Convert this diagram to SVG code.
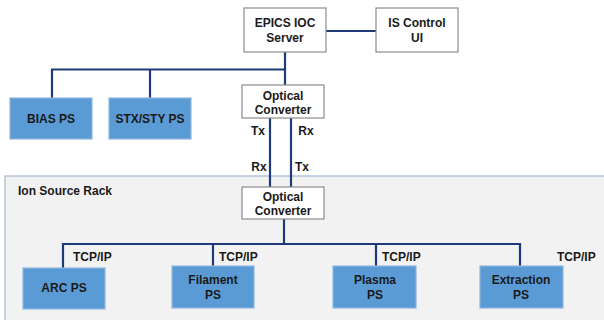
<svg xmlns="http://www.w3.org/2000/svg" width="604" height="320" viewBox="0 0 604 320">
<style>
text{font-family:"Liberation Sans",Arial,sans-serif;font-size:12px;font-weight:bold;fill:#1a1a1a;text-anchor:middle}
.lbl{text-anchor:start}
.w{fill:#ffffff;stroke:#8c8c8c;stroke-width:1.2}
.b{fill:#5b9bd5;stroke:#8fb6e0;stroke-width:1.2}
.c{fill:none;stroke:#1f3a78;stroke-width:2.2}
</style>
<rect id="rack" x="5" y="176" width="610" height="160" fill="#f2f2f2" stroke="#b7c6da" stroke-width="1.5"/>
<text class="lbl" x="18" y="195">Ion Source Rack</text>
<g id="connectors">
<path class="c" d="M376 31H326"/>
<path class="c" d="M285 52V85"/>
<path class="c" d="M285 69.5H52V98M150 69.5V98"/>
<path class="c" d="M270 118V187M291 118V187"/>
<path class="c" d="M284 219V244"/>
<path class="c" d="M63 268V244H520V266M213 244V266M376 244V266"/>
</g>
<g id="labels">
<text x="258" y="135">Tx</text>
<text x="306" y="135">Rx</text>
<text x="259" y="171">Rx</text>
<text x="302" y="171">Tx</text>
<text class="lbl" x="73" y="261">TCP/IP</text>
<text class="lbl" x="219" y="261">TCP/IP</text>
<text class="lbl" x="382" y="261">TCP/IP</text>
<text class="lbl" x="557" y="261">TCP/IP</text>
</g>
<g id="epics"><rect class="w" x="244" y="8" width="82" height="44"/><text x="285" y="27">EPICS IOC</text><text x="285" y="42">Server</text></g>
<g id="isui"><rect class="w" x="376" y="8" width="82" height="44"/><text x="417" y="27">IS Control</text><text x="417" y="42">UI</text></g>
<g id="optical1"><rect class="w" x="242" y="85" width="82" height="33"/><text x="283" y="99.5">Optical</text><text x="283" y="113.5">Converter</text></g>
<g id="bias"><rect class="b" x="10" y="98" width="82" height="41"/><text x="51" y="123">BIAS PS</text></g>
<g id="stx"><rect class="b" x="109" y="98" width="82" height="41"/><text x="150" y="123">STX/STY PS</text></g>
<g id="optical2"><rect class="w" x="242" y="187" width="82" height="32"/><text x="283" y="200.5">Optical</text><text x="283" y="215">Converter</text></g>
<g id="arc"><rect class="b" x="23" y="268" width="82" height="41"/><text x="64" y="292">ARC PS</text></g>
<g id="filament"><rect class="b" x="172" y="266" width="82" height="42"/><text x="213" y="284">Filament</text><text x="213" y="299">PS</text></g>
<g id="plasma"><rect class="b" x="333" y="266" width="83" height="42"/><text x="375" y="284">Plasma</text><text x="375" y="299">PS</text></g>
<g id="extraction"><rect class="b" x="480" y="266" width="83" height="42"/><text x="521" y="284">Extraction</text><text x="521" y="299">PS</text></g>
</svg>
